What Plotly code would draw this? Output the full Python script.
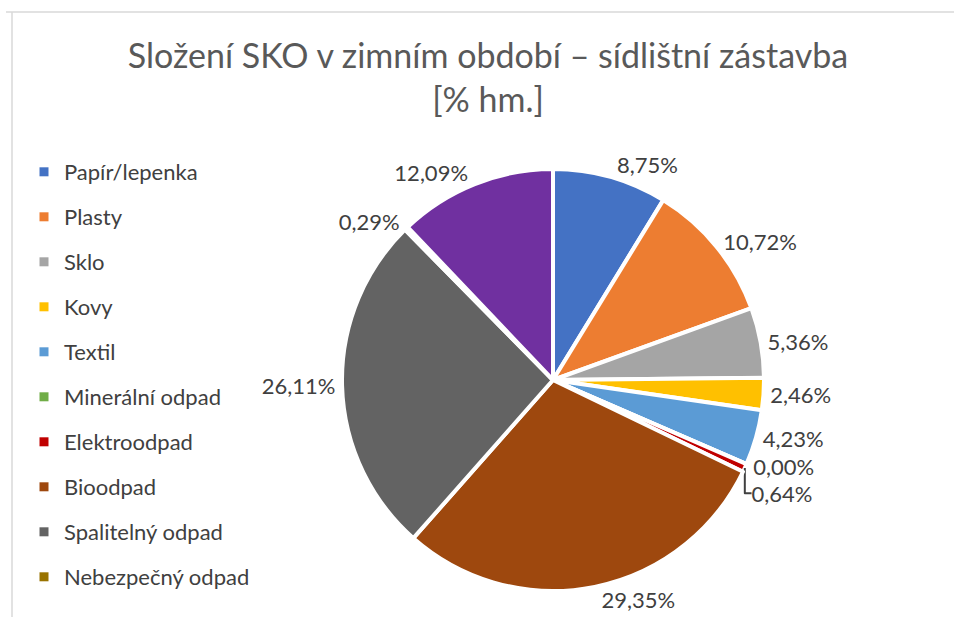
import plotly.graph_objects as go

# data
categories = ["Papír/lepenka", "Plasty", "Sklo", "Kovy", "Textil",
              "Minerální odpad", "Elektroodpad", "Bioodpad",
              "Spalitelný odpad", "Nebezpečný odpad", "Jemná frakce"]
values = [8.75, 10.72, 5.36, 2.46, 4.23, 0.00, 0.64, 29.35, 26.11, 0.29, 12.09]
colors = ["#4472C4", "#ED7D31", "#A5A5A5", "#FFC000", "#5B9BD5",
          "#70AD47", "#C00000", "#9E480E", "#636363", "#997300", "#7030A0"]
legend_items = categories[:10]  # the last one is cut off in the original legend

labels_txt = [f"{v:.2f}".replace(".", ",") + "%" for v in values]

W, H = 954, 617
cx, cy, r = 553, 380, 211

fig = go.Figure()

fig.add_trace(go.Pie(
    labels=categories,
    values=values,
    text=labels_txt,
    texttemplate="%{text}",
    textposition="outside",
    textfont=dict(family="Lato", size=22, color="#404040"),
    marker=dict(colors=colors, line=dict(color="white", width=4)),
    sort=False,
    direction="clockwise",
    rotation=0,
    showlegend=False,
    domain=dict(x=[(cx - r) / W, (cx + r) / W], y=[1 - (cy + r) / H, 1 - (cy - r) / H]),
))

# legend built from dummy traces so only the first ten entries appear
for i, name in enumerate(legend_items):
    fig.add_trace(go.Scatter(
        x=[None], y=[None], mode="markers", name=name,
        legendgroup=f"g{i}",
        marker=dict(symbol="square", size=9, color=colors[i]),
    ))

fig.update_layout(
    width=W, height=H,
    paper_bgcolor="white", plot_bgcolor="white",
    margin=dict(l=0, r=0, t=0, b=0, autoexpand=False),
    xaxis=dict(visible=False), yaxis=dict(visible=False),
    title=dict(
        text="Složení SKO v zimním období – sídlištní zástavba<br>[% hm.]",
        x=488 / W, xanchor="center", y=1 - 68 / H, yanchor="top",
        font=dict(family="Lato", size=34, color="#595959"),
    ),
    legend=dict(
        x=24 / W, xanchor="left", y=1 - 151 / H, yanchor="top",
        traceorder="grouped", tracegroupgap=13.4,
        font=dict(family="Lato", size=22, color="#404040"),
        bgcolor="rgba(0,0,0,0)",
    ),
    shapes=[
        dict(type="line", xref="paper", yref="paper",
             x0=6 / W, x1=1, y0=1 - 12 / H, y1=1 - 12 / H,
             line=dict(color="#D9D9D9", width=1.5)),
        dict(type="line", xref="paper", yref="paper",
             x0=12 / W, x1=12 / W, y0=0, y1=1 - 12 / H,
             line=dict(color="#D9D9D9", width=1.5)),
    ],
)

fig.write_html("out.html", config={"displayModeBar": False},
               post_script="document.body.style.margin='0';")
